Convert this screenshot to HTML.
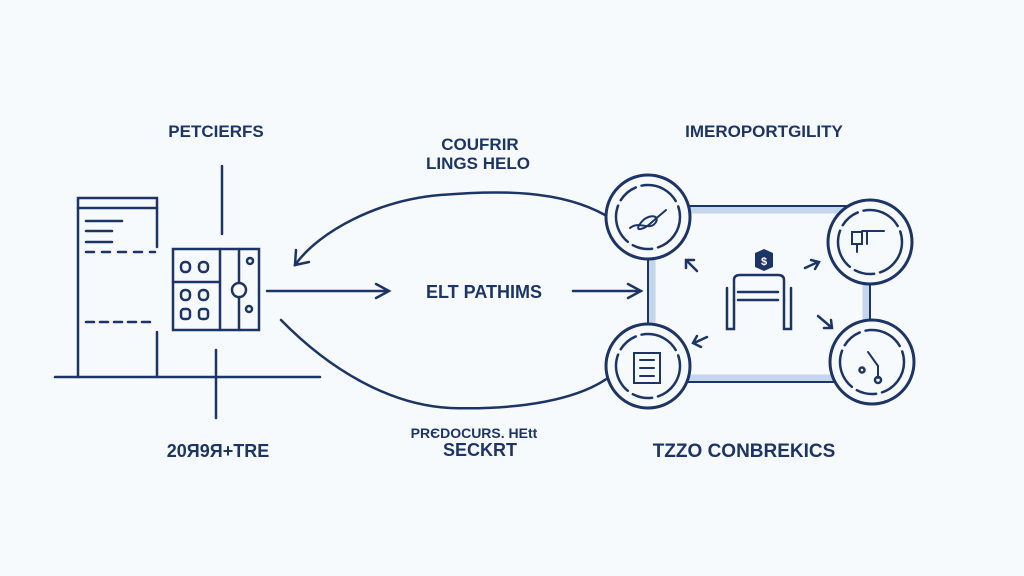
<!DOCTYPE html>
<html><head><style>
html,body{margin:0;padding:0;background:#f7fafd;}
svg{display:block}
text{font-family:"Liberation Sans","DejaVu Sans",sans-serif;fill:#1d3566;font-weight:bold;}
</style></head><body>
<svg width="1024" height="576" viewBox="0 0 1024 576" xmlns="http://www.w3.org/2000/svg">
<rect width="1024" height="576" fill="#f7fafd"/>
<g stroke="#1d3566" stroke-width="2.5" fill="none" stroke-linecap="round">
  <path d="M78 377 V198 H157 V247"/>
  <path d="M78 208 H157"/>
  <path d="M157 332 V377"/>
  <path d="M86 221 H122 M86 231 H112 M86 242 H112"/>
  <path d="M86 252 H155" stroke-dasharray="8 8"/>
  <path d="M86 322 H150" stroke-dasharray="8 6"/>
  <path d="M55 377 H320"/>
  <path d="M222 166 V234 M216 350 V418"/>
  <rect x="173" y="249" width="86" height="81"/>
  <path d="M220 249 V330 M239 249 V330 M173 282 H220"/>
  <rect x="181" y="262" width="9" height="10" rx="4"/>
  <rect x="199" y="262" width="9" height="10" rx="4"/>
  <rect x="181" y="290" width="9" height="10" rx="4"/>
  <rect x="199" y="290" width="9" height="10" rx="4"/>
  <rect x="181" y="309" width="9" height="10" rx="3"/>
  <rect x="199" y="309" width="9" height="10" rx="3"/>
  <circle cx="239" cy="290" r="7" fill="#fff"/>
  <circle cx="250" cy="261" r="3"/><circle cx="249" cy="309" r="3"/>
  <path d="M267 291 H388 M376 284 L389 291 L376 298"/>
  <path d="M573 291 H640 M628 284 L641 291 L628 298"/>
  <path d="M605 215 C560 190 500 190 440 195 C380 200 320 230 295 265"/>
  <path d="M296 250 L295 265 L309 262"/>
  <path d="M281 320 C330 370 390 405 450 408 C520 410 580 400 612 375"/>
  <rect x="652" y="210" width="214" height="168" stroke="#c3d6ec" stroke-width="7"/>
  <rect x="648" y="206" width="222" height="176" stroke-width="2"/>
  <circle cx="648" cy="217" r="42" fill="#f7fafd" stroke-width="3"/>
  <circle cx="648" cy="217" r="32" stroke-dasharray="40 6 20 6"/>
  <circle cx="870" cy="242" r="42" fill="#f7fafd" stroke-width="3"/>
  <circle cx="870" cy="242" r="32" stroke-dasharray="40 6 20 6"/>
  <circle cx="648" cy="366" r="42" fill="#f7fafd" stroke-width="3"/>
  <circle cx="648" cy="366" r="32" stroke-dasharray="40 6 20 6"/>
  <circle cx="872" cy="362" r="42" fill="#f7fafd" stroke-width="3"/>
  <circle cx="872" cy="362" r="32" stroke-dasharray="40 6 20 6"/>
  <path d="M630 228 C640 220 650 232 656 222 C660 214 646 214 640 224 C634 232 644 230 652 222 L666 210" stroke-width="2"/>
  <path d="M852 232 H862 V244 H852 Z M862 231 H884 M867 231 V244 M857 244 V252" stroke-width="2"/>
  <rect x="634" y="353" width="26" height="30" stroke-width="2"/>
  <path d="M640 360 H654 M640 368 H654 M640 376 H654" stroke-width="2"/>
  <path d="M868 352 L878 366 V378" stroke-width="2"/>
  <circle cx="878" cy="380" r="3"/><circle cx="862" cy="370" r="2.5"/>
  <path d="M697 271 L686 260 M686 268 V260 H694"/>
  <path d="M805 268 L818 262 M811 260 L819 262 L815 269"/>
  <path d="M818 316 L831 327 M824 328 L832 328 L831 320"/>
  <path d="M707 337 L694 343 M697 336 L693 343 L701 347"/>
  <path d="M734 300 V280 Q734 275 740 275 H778 Q784 275 784 280 V300"/>
  <path d="M727 288 V329 H734 V300 M791 288 V329 H784 V300"/>
  <path d="M738 292 H778 M738 300 H778"/>
</g>
<path d="M755 253 L764 249 L773 253 V267 L764 271 L755 267 Z" fill="#1d3566"/>
<text x="764" y="265" font-size="11" text-anchor="middle" style="fill:#fff">$</text>
<text x="216" y="137" font-size="17" text-anchor="middle">PETCIERFS</text>
<text x="480" y="150" font-size="17" text-anchor="middle">COUFRIR</text>
<text x="478" y="169" font-size="17" text-anchor="middle">LINGS HELO</text>
<text x="484" y="298" font-size="18" text-anchor="middle">ELT PATHIMS</text>
<text x="764" y="137" font-size="17" text-anchor="middle">IMEROPORTGILITY</text>
<text x="218" y="457" font-size="18" text-anchor="middle">20Я9Я+TRE</text>
<text x="474" y="438" font-size="14" text-anchor="middle">PRЄDOCURS. HEtt</text>
<text x="480" y="456" font-size="18" text-anchor="middle">SECKRT</text>
<text x="744" y="457" font-size="19" text-anchor="middle">TZZO CONBREKICS</text>
</svg>
</body></html>
